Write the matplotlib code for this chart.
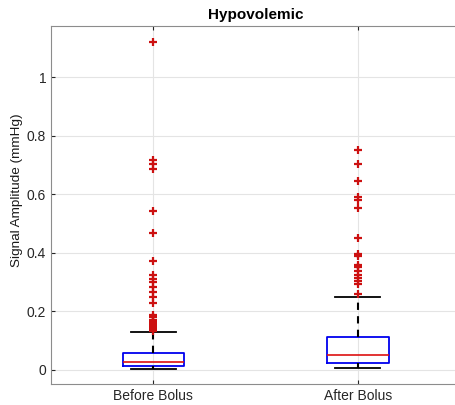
import matplotlib
matplotlib.use('Agg')
import matplotlib.pyplot as plt

plt.rcParams['font.family'] = ['Liberation Sans', 'DejaVu Sans']

groups = ['Before Bolus', 'After Bolus']
whislo = [0.002, 0.006]
q1 = [0.014, 0.022]
med = [0.028, 0.050]
q3 = [0.059, 0.113]
whishi = [0.128, 0.248]
fliers_before = [1.121, 0.718, 0.702, 0.686, 0.542, 0.468, 0.373, 0.325, 0.31, 0.299,
                 0.282, 0.265, 0.248, 0.230, 0.188, 0.179, 0.172, 0.168, 0.16, 0.156,
                 0.15, 0.145, 0.14, 0.134]
fliers_after = [0.752, 0.704, 0.645, 0.590, 0.579, 0.552, 0.452, 0.396, 0.388, 0.36,
                0.35, 0.337, 0.325, 0.314, 0.305, 0.295, 0.259]
yticks = [0, 0.2, 0.4, 0.6, 0.8, 1]
ytick_labels = ['0', '0.2', '0.4', '0.6', '0.8', '1']

stats = []
fl = [fliers_before, fliers_after]
for i in range(len(groups)):
    stats.append(dict(label=groups[i], whislo=whislo[i], q1=q1[i], med=med[i],
                      q3=q3[i], whishi=whishi[i], fliers=fl[i]))

fig = plt.figure(figsize=(4.56, 4.05), dpi=100)
ax = fig.add_axes([0.112, 0.052, 0.897, 0.884])

ax.bxp(stats, positions=[1, 2], widths=0.3,
       boxprops=dict(color='#0000ee', linewidth=1.3),
       medianprops=dict(color='#dd1111', linewidth=1.2),
       whiskerprops=dict(color='black', linewidth=1.5, linestyle=(0, (3.5, 3))),
       capprops=dict(color='black', linewidth=1.3),
       flierprops=dict(marker='+', markeredgecolor='#cc1111', markersize=6,
                       markeredgewidth=1.6, linestyle='none'),
       capwidths=0.22)

ax.set_xlim(0.5, 2.5)
ax.set_ylim(-0.048, 1.175)
ax.set_yticks(yticks)
ax.set_yticklabels(ytick_labels)
ax.set_xticks([1, 2])
ax.set_xticklabels(groups)
ax.grid(True, color='#e4e4e4', linewidth=0.8)
ax.set_axisbelow(True)
ax.tick_params(direction='in', length=3, colors='#262626', labelsize=10,
               top=True, right=True)
for s in ax.spines.values():
    s.set_color('#8c8c8c')
    s.set_linewidth(0.8)

ax.set_ylabel('Signal Amplitude (mmHg)', fontsize=9.7, color='#1a1a1a')
ax.yaxis.set_label_coords(-0.068, 0.54)
ax.set_title('Hypovolemic', fontsize=11, fontweight='bold', pad=5)

fig.savefig('out.png', dpi=100)
